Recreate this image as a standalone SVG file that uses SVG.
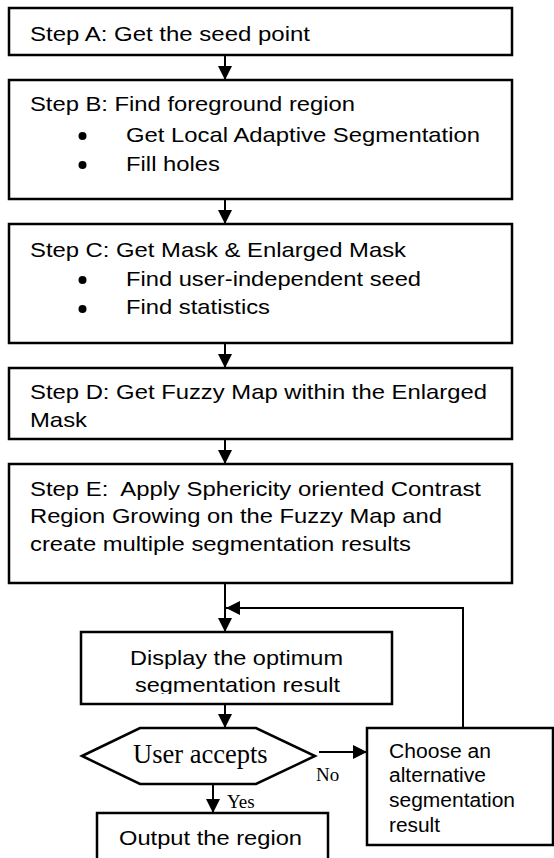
<svg xmlns="http://www.w3.org/2000/svg" width="554" height="858" viewBox="0 0 554 858">
<style>
.box{fill:#fff;stroke:#000;stroke-width:2.5}
.t{font-family:"Liberation Sans",Arial,sans-serif;font-size:21px;fill:#000}
.ts{font-family:"Liberation Sans",Arial,sans-serif;font-size:19.5px;fill:#000}
.serif{font-family:"Liberation Serif","Times New Roman",serif;fill:#000}
.ln{fill:none;stroke:#000;stroke-width:2}
.bul{fill:#000}
</style>
<defs>
<marker id="ah" viewBox="0 0 14 14" refX="14" refY="7" markerWidth="14" markerHeight="14" markerUnits="userSpaceOnUse" orient="auto">
<path d="M0,0 L14,7 L0,14 Z" fill="#000"/>
</marker>
<clipPath id="clipDisp"><rect x="81" y="632" width="311" height="62"/></clipPath>
</defs>

<g id="connectors">
<line class="ln" x1="225" y1="55" x2="225" y2="80" marker-end="url(#ah)"/>
<line class="ln" x1="225" y1="199" x2="225" y2="224" marker-end="url(#ah)"/>
<line class="ln" x1="225" y1="343" x2="225" y2="368" marker-end="url(#ah)"/>
<line class="ln" x1="225" y1="439" x2="225" y2="464" marker-end="url(#ah)"/>
<line class="ln" x1="225" y1="583" x2="225" y2="632" marker-end="url(#ah)"/>
<line class="ln" x1="225" y1="704" x2="225" y2="728" marker-end="url(#ah)"/>
<line class="ln" x1="213" y1="783" x2="213" y2="813" marker-end="url(#ah)"/>
<line class="ln" x1="319" y1="752" x2="367" y2="752" marker-end="url(#ah)"/>
<polyline class="ln" points="463,728 463,608 226,608" marker-end="url(#ah)"/>
<text class="serif" x="316" y="781" font-size="19">No</text>
<text class="serif" x="227" y="808" font-size="19">Yes</text>
</g>

<g id="stepA">
<rect class="box" x="9" y="8" width="503" height="47"/>
<text class="t" x="30" y="41" textLength="280" lengthAdjust="spacingAndGlyphs">Step A: Get the seed point</text>
</g>

<g id="stepB">
<rect class="box" x="9" y="80" width="503" height="119"/>
<text class="t" x="30" y="111" textLength="325" lengthAdjust="spacingAndGlyphs">Step B: Find foreground region</text>
<circle class="bul" cx="82.5" cy="136" r="4"/>
<text class="t" x="126" y="142" textLength="354" lengthAdjust="spacingAndGlyphs">Get Local Adaptive Segmentation</text>
<circle class="bul" cx="82.5" cy="165" r="4"/>
<text class="t" x="126" y="171" textLength="94" lengthAdjust="spacingAndGlyphs">Fill holes</text>
</g>

<g id="stepC">
<rect class="box" x="9" y="224" width="503" height="119"/>
<text class="t" x="30" y="257" textLength="376" lengthAdjust="spacingAndGlyphs">Step C: Get Mask &amp; Enlarged Mask</text>
<circle class="bul" cx="82.5" cy="280" r="4"/>
<text class="t" x="126" y="286" textLength="295" lengthAdjust="spacingAndGlyphs">Find user-independent seed</text>
<circle class="bul" cx="82.5" cy="309" r="4"/>
<text class="t" x="126" y="314" textLength="144" lengthAdjust="spacingAndGlyphs">Find statistics</text>
</g>

<g id="stepD">
<rect class="box" x="9" y="368" width="503" height="71"/>
<text class="t" x="30" y="399" textLength="457" lengthAdjust="spacingAndGlyphs">Step D: Get Fuzzy Map within the Enlarged</text>
<text class="t" x="30" y="427" textLength="57" lengthAdjust="spacingAndGlyphs">Mask</text>
</g>

<g id="stepE">
<rect class="box" x="9" y="464" width="503" height="119"/>
<text class="t" x="30" y="496" textLength="451" lengthAdjust="spacingAndGlyphs" xml:space="preserve" style="white-space:pre">Step E:  Apply Sphericity oriented Contrast</text>
<text class="t" x="30" y="523" textLength="412" lengthAdjust="spacingAndGlyphs">Region Growing on the Fuzzy Map and</text>
<text class="t" x="30" y="551" textLength="381" lengthAdjust="spacingAndGlyphs">create multiple segmentation results</text>
</g>

<g id="display">
<rect class="box" x="81" y="632" width="311" height="72"/>
<text class="t" x="130" y="665" textLength="213" lengthAdjust="spacingAndGlyphs">Display the optimum</text>
<text class="t" x="135" y="692" textLength="205" lengthAdjust="spacingAndGlyphs" clip-path="url(#clipDisp)">segmentation result</text>
</g>

<g id="decision">
<polygon points="82,756 140,728 256,728 315,756 256,784 140,784" fill="#fff" stroke="#000" stroke-width="2.5"/>
<text class="serif" x="133" y="763" font-size="26.5">User accepts</text>
</g>

<g id="choose">
<rect class="box" x="367" y="728" width="186" height="117"/>
<text class="ts" x="389" y="758" textLength="102" lengthAdjust="spacingAndGlyphs">Choose an</text>
<text class="ts" x="389" y="782" textLength="97" lengthAdjust="spacingAndGlyphs">alternative</text>
<text class="ts" x="389" y="807" textLength="126" lengthAdjust="spacingAndGlyphs">segmentation</text>
<text class="ts" x="389" y="832" textLength="51" lengthAdjust="spacingAndGlyphs">result</text>
</g>

<g id="output">
<rect class="box" x="97" y="813" width="231" height="60"/>
<text class="t" x="119" y="845" textLength="183" lengthAdjust="spacingAndGlyphs">Output the region</text>
</g>
</svg>
